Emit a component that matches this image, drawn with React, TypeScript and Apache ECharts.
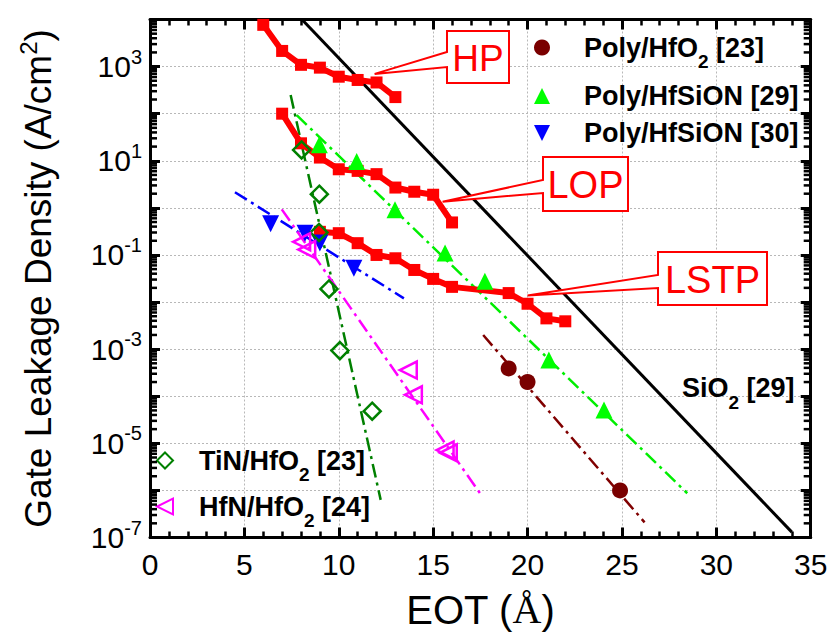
import React, { useEffect, useRef } from 'react';
import * as echarts from 'echarts';

// ---------------- data (EOT in Å, J in A/cm²) ----------------
const HP_EOT = [6, 7, 8, 9, 10, 11, 12, 13];
const HP_J = [7700, 2150, 1090, 950, 610, 520, 460, 225];

const LOP_EOT = [7, 8, 9, 10, 11, 12, 13, 14, 15, 16];
const LOP_J = [100, 23.5, 11.7, 6.6, 6.1, 5.2, 2.7, 2.2, 1.9, 0.49];

const LSTP_EOT = [9, 10, 11, 12, 13, 14, 15, 16, 19, 20, 21, 22];
const LSTP_J = [0.31, 0.29, 0.178, 0.1, 0.085, 0.048, 0.031, 0.021, 0.0155, 0.0092, 0.0045, 0.0039];

const SIO2_EOT = [8.05, 34.0];
const SIO2_J = [1e4, 1.3e-7];

const POLY_HFO2_EOT = [19.0, 20.0, 24.9];
const POLY_HFO2_J = [3.9e-4, 2.0e-4, 1.0e-6];
const POLY_HFO2_FIT_EOT = [17.65, 26.2];
const POLY_HFO2_FIT_J = [2.0e-3, 2.1e-7];

const HFSION29_EOT = [8.97, 10.95, 12.98, 15.63, 17.74, 21.13, 24.05];
const HFSION29_J = [22, 9.6, 0.91, 0.11, 0.0275, 5.9e-4, 5.1e-5];
const HFSION29_FIT_EOT = [7.77, 28.46];
const HFSION29_FIT_J = [93, 8.7e-7];

const HFSION30_EOT = [6.39, 8.21, 9.0, 10.8];
const HFSION30_J = [0.46, 0.29, 0.18, 0.052];
const HFSION30_FIT_EOT = [4.5, 13.45];
const HFSION30_FIT_J = [2.15, 0.012];

const TIN_EOT = [8.03, 8.97, 8.95, 9.48, 10.06, 11.77];
const TIN_J = [17, 1.95, 0.3, 0.019, 9.3e-4, 4.8e-5];
const TIN_FIT_EOT = [7.45, 12.22];
const TIN_FIT_J = [250, 6.3e-7];

const HFN_EOT = [8.03, 8.3, 13.68, 13.95, 15.63, 15.8];
const HFN_J = [0.19, 0.13, 3.6e-4, 1.07e-4, 7.2e-6, 6.3e-6];
const HFN_FIT_EOT = [6.98, 17.48];
const HFN_FIT_J = [0.93, 8.7e-7];

// axis ticks
const X_MIN = 0;
const X_MAX = 35;
const X_STEP = 5;
const Y_EXP_MIN = -7;
const Y_EXP_MAX = 4;
const Y_LABEL_EXPS = [-7, -5, -3, -1, 1, 3];

// legend names
const N_POLY_HFO2 = 'Poly/HfO2 [23]';
const N_HFSION29 = 'Poly/HfSiON [29]';
const N_HFSION30 = 'Poly/HfSiON [30]';
const N_TIN = 'TiN/HfO2 [23]';
const N_HFN = 'HfN/HfO2 [24]';

const FONT = '"Liberation Sans", Arial, Helvetica, sans-serif';

const pairs = (xs: number[], ys: number[]) => xs.map((x, i) => [x, ys[i]]);

const DECADES: number[] = [];
for (let e = Y_EXP_MIN; e <= Y_EXP_MAX; e++) DECADES.push(Number(`1e${e}`));
const MINORS: number[] = [];
for (let e = Y_EXP_MIN; e < Y_EXP_MAX; e++) for (let m = 2; m <= 9; m++) MINORS.push(Number(`${m}e${e}`));
const LABEL_VALUES = Y_LABEL_EXPS.map((e) => Number(`1e${e}`));

const CALLOUTS = [
  { text: 'HP', anchor: [11.9, 700], box: [447, 31, 509, 83], join: [52, 67], fontSize: 37 },
  { text: 'LOP', anchor: [15.5, 1.35], box: [543, 157, 628, 211], join: [180, 193], fontSize: 38 },
  { text: 'LSTP', anchor: [20.0, 0.0138], box: [658, 252, 767, 305], join: [275, 288], fontSize: 38 },
];

export default function App() {
  const ref = useRef<HTMLDivElement>(null);

  useEffect(() => {
    const chart = echarts.init(ref.current!, null, { renderer: 'svg' });

    const dashDot = [14, 5, 3, 5];
    const subRich = {
      sub: { fontSize: 19, fontWeight: 'bold', fontFamily: FONT, color: '#000', lineHeight: 19, padding: [28, 0, 0, 0] },
    };
    const legendText = (padLeft: number) => ({
      fontFamily: FONT,
      fontSize: 27,
      fontWeight: 'bold',
      color: '#000',
      lineHeight: 30,
      padding: [0, 0, 0, padLeft],
      rich: subRich,
    });
    const legendBase = {
      orient: 'vertical',
      padding: 0,
      itemWidth: 16,
      itemHeight: 16,
      selectedMode: false,
      formatter: (n: string) => n.replace('HfO2', 'HfO{sub|2}'),
    };

    const xAxisBase = {
      type: 'value',
      min: X_MIN,
      max: X_MAX,
      interval: X_STEP,
      axisLine: { show: true, onZero: false, lineStyle: { color: '#000', width: 3 } },
      axisTick: { show: true, inside: true, length: 10, lineStyle: { color: '#000', width: 3 } },
      minorTick: { show: true, splitNumber: 5, length: 6, lineStyle: { color: '#000', width: 2.5 } },
    };
    const yAxisBase = {
      type: 'log',
      logBase: 10,
      min: Number(`1e${Y_EXP_MIN}`),
      max: Number(`1e${Y_EXP_MAX}`),
    };

    const option: any = {
      animation: false,
      backgroundColor: '#fff',
      grid: { left: 150, right: 24.3, top: 19.5, bottom: 101.5, containLabel: false },
      xAxis: [
        {
          ...xAxisBase,
          position: 'bottom',
          name: 'EOT ({a|Å})',
          nameLocation: 'middle',
          nameGap: 52,
          nameTextStyle: {
            fontFamily: FONT,
            fontSize: 40,
            color: '#000',
            rich: { a: { fontFamily: '"Liberation Serif", "DejaVu Serif", serif', fontSize: 40, color: '#000' } },
          },
          axisLabel: { show: true, margin: 12, fontFamily: FONT, fontSize: 30, color: '#000' },
          splitLine: { show: true, lineStyle: { color: '#b8b8b8', type: [2, 2], width: 1 } },
        },
        {
          ...xAxisBase,
          position: 'top',
          axisLabel: { show: false },
          splitLine: { show: false },
        },
      ],
      yAxis: [
        {
          ...yAxisBase,
          position: 'left',
          name: 'Gate Leakage Density (A/cm{sup|2})',
          nameLocation: 'middle',
          nameGap: 90,
          nameRotate: 90,
          nameTextStyle: {
            fontFamily: FONT,
            fontSize: 37,
            color: '#000',
            rich: { sup: { fontFamily: FONT, fontSize: 24, color: '#000', padding: [0, 0, 20, 0] } },
          },
          axisLine: { show: true, onZero: false, lineStyle: { color: '#000', width: 3 } },
          axisTick: { show: true, inside: true, length: 10, customValues: DECADES, lineStyle: { color: '#000', width: 3 } },
          axisLabel: {
            show: true,
            margin: 8,
            customValues: LABEL_VALUES,
            formatter: (v: number) => `10{sup|${Math.round(Math.log10(v))}}`,
            fontFamily: FONT,
            fontSize: 30,
            color: '#000',
            lineHeight: 30,
            rich: { sup: { fontFamily: FONT, fontSize: 20, color: '#000', lineHeight: 20, padding: [0, 0, 20, 0] } },
          },
          splitLine: { show: true, lineStyle: { color: '#b8b8b8', type: [2, 2], width: 1 } },
        },
        {
          ...yAxisBase,
          position: 'right',
          axisLine: { show: true, onZero: false, lineStyle: { color: '#000', width: 3 } },
          axisTick: { show: true, inside: true, length: 10, customValues: DECADES, lineStyle: { color: '#000', width: 3 } },
          axisLabel: { show: false },
          splitLine: { show: false },
        },
      ],
      legend: [
        { ...legendBase, data: [N_POLY_HFO2], left: 534, top: 24, textStyle: legendText(29) },
        { ...legendBase, data: [N_HFSION29], left: 534, top: 81, textStyle: legendText(29) },
        { ...legendBase, data: [{ name: N_HFSION30, icon: 'path://M0,0L10,0L5,10Z' }], left: 534, top: 118, textStyle: legendText(29) },
        { ...legendBase, data: [N_TIN], left: 156, top: 437, textStyle: legendText(21) },
        { ...legendBase, data: [{ name: N_HFN, icon: 'path://M10,0L10,10L0,5Z' }], left: 156, top: 483, textStyle: legendText(21) },
      ],
      series: [
        // fitted trend lines
        { name: 'fitPolyHfO2', type: 'line', data: pairs(POLY_HFO2_FIT_EOT, POLY_HFO2_FIT_J), showSymbol: false, symbol: 'none', z: 2, lineStyle: { color: '#800000', width: 2.5, type: dashDot } },
        { name: 'fitHfSiON29', type: 'line', data: pairs(HFSION29_FIT_EOT, HFSION29_FIT_J), showSymbol: false, symbol: 'none', z: 2, lineStyle: { color: '#00ee00', width: 2.5, type: dashDot } },
        { name: 'fitHfSiON30', type: 'line', data: pairs(HFSION30_FIT_EOT, HFSION30_FIT_J), showSymbol: false, symbol: 'none', z: 2, lineStyle: { color: '#0000ff', width: 2.5, type: dashDot } },
        { name: 'fitTiN', type: 'line', data: pairs(TIN_FIT_EOT, TIN_FIT_J), showSymbol: false, symbol: 'none', z: 2, lineStyle: { color: '#008000', width: 2.5, type: dashDot } },
        { name: 'fitHfN', type: 'line', data: pairs(HFN_FIT_EOT, HFN_FIT_J), showSymbol: false, symbol: 'none', z: 2, lineStyle: { color: '#ff00ff', width: 2.5, type: dashDot } },
        // SiO2 reference
        { name: 'SiO2', type: 'line', data: pairs(SIO2_EOT, SIO2_J), showSymbol: false, symbol: 'none', z: 3, lineStyle: { color: '#000', width: 3 } },
        // ITRS targets
        { name: 'HP', type: 'line', data: pairs(HP_EOT, HP_J), symbol: 'rect', symbolSize: 12, z: 4, itemStyle: { color: '#ff0000' }, lineStyle: { color: '#ff0000', width: 6 } },
        { name: 'LOP', type: 'line', data: pairs(LOP_EOT, LOP_J), symbol: 'rect', symbolSize: 12, z: 4, itemStyle: { color: '#ff0000' }, lineStyle: { color: '#ff0000', width: 6 } },
        { name: 'LSTP', type: 'line', data: pairs(LSTP_EOT, LSTP_J), symbol: 'rect', symbolSize: 12, z: 4, itemStyle: { color: '#ff0000' }, lineStyle: { color: '#ff0000', width: 6 } },
        // measured data
        { name: N_POLY_HFO2, type: 'scatter', data: pairs(POLY_HFO2_EOT, POLY_HFO2_J), symbol: 'circle', symbolSize: 16, z: 5, itemStyle: { color: '#7a0000', opacity: 1 } },
        { name: N_HFSION29, type: 'scatter', data: pairs(HFSION29_EOT, HFSION29_J), symbol: 'triangle', symbolSize: 17, z: 5, itemStyle: { color: '#00ff00', opacity: 1 } },
        { name: N_HFSION30, type: 'scatter', data: pairs(HFSION30_EOT, HFSION30_J), symbol: 'triangle', symbolRotate: 180, symbolSize: 17, z: 5, itemStyle: { color: '#0000ff', opacity: 1 } },
        { name: N_TIN, type: 'scatter', data: pairs(TIN_EOT, TIN_J), symbol: 'diamond', symbolSize: 17, z: 5, itemStyle: { color: 'rgba(0,0,0,0)', borderColor: '#008000', borderWidth: 2.5, opacity: 1 } },
        { name: N_HFN, type: 'scatter', data: pairs(HFN_EOT, HFN_J), symbol: 'triangle', symbolRotate: 90, symbolSize: 17, z: 5, itemStyle: { color: 'rgba(0,0,0,0)', borderColor: '#ff00ff', borderWidth: 2.5, opacity: 1 } },
        // log minor ticks on left and right frame edges
        {
          name: 'yMinorTicks',
          type: 'custom',
          silent: true,
          clip: false,
          z: 6,
          data: MINORS.map((v) => [X_MIN, v]),
          renderItem: (_params: any, api: any) => {
            const v = api.value(1);
            const pl = api.coord([X_MIN, v]);
            const pr = api.coord([X_MAX, v]);
            const st = { stroke: '#000', lineWidth: 2.5 };
            return {
              type: 'group',
              children: [
                { type: 'line', shape: { x1: pl[0], y1: pl[1], x2: pl[0] + 7, y2: pl[1] }, style: st },
                { type: 'line', shape: { x1: pr[0], y1: pr[1], x2: pr[0] - 7, y2: pr[1] }, style: st },
              ],
            };
          },
        },
      ],
    };

    chart.setOption(option);

    const graphics: any[] = [];
    CALLOUTS.forEach((c) => {
      const p = chart.convertToPixel({ xAxisIndex: 0, yAxisIndex: 0 }, c.anchor) as number[];
      const [l, t, r, b] = c.box;
      graphics.push({
        type: 'polygon',
        z: 100,
        shape: { points: [[l, t], [r, t], [r, b], [l, b], [l, c.join[1]], [p[0], p[1]], [l, c.join[0]]] },
        style: { fill: '#fff', stroke: '#ff0000', lineWidth: 2 },
      });
      graphics.push({
        type: 'text',
        z: 101,
        x: (l + r) / 2,
        y: (t + b) / 2 + 1,
        style: { text: c.text, fill: '#ff0000', fontFamily: FONT, fontSize: c.fontSize, align: 'center', verticalAlign: 'middle' },
      });
    });
    graphics.push({
      type: 'text',
      z: 101,
      x: 682,
      y: 373,
      style: {
        text: 'SiO{sub|2} [29]',
        fill: '#000',
        fontFamily: FONT,
        fontSize: 27,
        fontWeight: 'bold',
        lineHeight: 30,
        align: 'left',
        verticalAlign: 'top',
        rich: subRich,
      },
    });
    chart.setOption({ graphic: graphics });

    return () => chart.dispose();
  }, []);

  return <div ref={ref} style={{ position: 'absolute', left: 0, top: 0, width: 835, height: 639 }} />;
}
